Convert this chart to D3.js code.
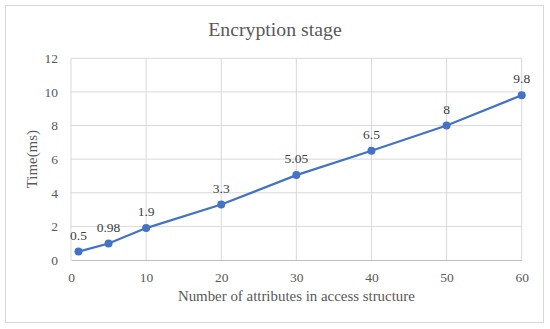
<!DOCTYPE html>
<html>
<head>
<meta charset="utf-8">
<script src="https://cdn.jsdelivr.net/npm/d3@7"></script>
<style>
  body { margin: 0; background: #fff; }
  text { font-family: "Liberation Serif", "Times New Roman", serif; }
</style>
</head>
<body>
<svg id="chart"></svg>
<script>
const attributes = [1, 5, 10, 20, 30, 40, 50, 60];
const timeMs = [0.5, 0.98, 1.9, 3.3, 5.05, 6.5, 8, 9.8];
const valueLabels = ["0.5", "0.98", "1.9", "3.3", "5.05", "6.5", "8", "9.8"];
const xTicks = [0, 10, 20, 30, 40, 50, 60];
const yTicks = [0, 2, 4, 6, 8, 10, 12];

const width = 550, height = 329;
const margin = { top: 58.3, right: 28.3, bottom: 69, left: 71 };
const innerW = width - margin.left - margin.right;
const innerH = height - margin.top - margin.bottom;

const svg = d3.select("#chart").attr("width", width).attr("height", height);

svg.append("rect")
  .attr("x", 5.5).attr("y", 5.5)
  .attr("width", 538).attr("height", 317)
  .attr("fill", "#fff").attr("stroke", "#d9d9d9");

svg.append("text")
  .attr("x", width / 2).attr("y", 36)
  .attr("text-anchor", "middle")
  .attr("font-size", 19.8)
  .attr("fill", "#595959")
  .text("Encryption stage");

const g = svg.append("g").attr("transform", `translate(${margin.left},${margin.top})`);

const x = d3.scaleLinear().domain([0, 60]).range([0, innerW]);
const y = d3.scaleLinear().domain([0, 12]).range([innerH, 0]);

// grid
g.append("g").selectAll("line").data(yTicks.filter(d => d > 0)).join("line")
  .attr("x1", 0).attr("x2", innerW)
  .attr("y1", d => y(d)).attr("y2", d => y(d))
  .attr("stroke", "#d9d9d9");
g.append("g").selectAll("line").data(xTicks).join("line")
  .attr("x1", d => x(d)).attr("x2", d => x(d))
  .attr("y1", 0).attr("y2", innerH)
  .attr("stroke", "#d9d9d9");

// axes
const xAxis = g.append("g")
  .attr("transform", `translate(0,${innerH})`)
  .call(d3.axisBottom(x).tickValues(xTicks).tickSize(0).tickPadding(12));
xAxis.select(".domain").attr("stroke", "#bfbfbf");
xAxis.selectAll("text").attr("font-size", 13.5).attr("fill", "#595959")
  .style("font-family", "Liberation Serif");

const yAxis = g.append("g")
  .call(d3.axisLeft(y).tickValues(yTicks).tickSize(0).tickPadding(13));
yAxis.select(".domain").remove();
yAxis.selectAll("text").attr("font-size", 13.5).attr("fill", "#595959")
  .style("font-family", "Liberation Serif");

// axis titles
svg.append("text")
  .attr("x", margin.left + innerW / 2).attr("y", 301)
  .attr("text-anchor", "middle")
  .attr("font-size", 14.9)
  .attr("fill", "#595959")
  .text("Number of attributes in access structure");

svg.append("text")
  .attr("transform", `translate(37,${margin.top + innerH / 2}) rotate(-90)`)
  .attr("text-anchor", "middle")
  .attr("font-size", 14.9)
  .attr("fill", "#595959")
  .text("Time(ms)");

// series
const points = attributes.map((a, i) => ({ a, v: timeMs[i], label: valueLabels[i] }));

g.append("path")
  .datum(points)
  .attr("fill", "none")
  .attr("stroke", "#4472c4")
  .attr("stroke-width", 2.25)
  .attr("d", d3.line().x(d => x(d.a)).y(d => y(d.v)));

g.selectAll(".pt").data(points).join("circle")
  .attr("class", "pt")
  .attr("cx", d => x(d.a)).attr("cy", d => y(d.v))
  .attr("r", 4)
  .attr("fill", "#4472c4");

g.selectAll(".lbl").data(points).join("text")
  .attr("class", "lbl")
  .attr("x", d => x(d.a)).attr("y", d => y(d.v) - 12)
  .attr("text-anchor", "middle")
  .attr("font-size", 13.5)
  .attr("fill", "#404040")
  .text(d => d.label);
</script>
</body>
</html>
